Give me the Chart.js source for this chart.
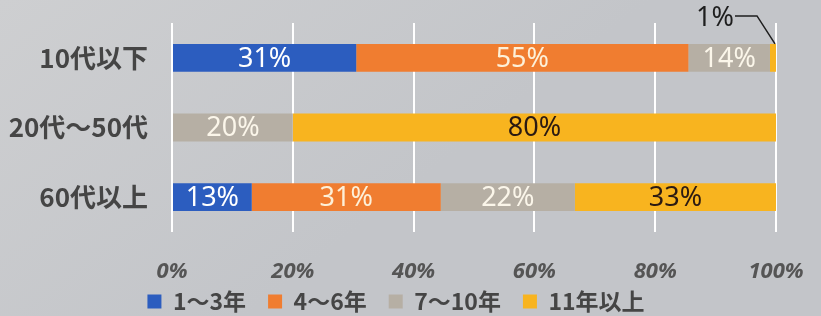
<!DOCTYPE html>
<html lang="ja">
<head>
<meta charset="utf-8">
<script src="https://cdn.jsdelivr.net/npm/chart.js@4.4.1/dist/chart.umd.min.js"></script>
<style>
  html, body { margin: 0; padding: 0; }
  body { width: 821px; height: 316px; overflow: hidden; }
  #wrap { position: relative; width: 821px; height: 316px; }
</style>
</head>
<body>
<div id="wrap"><canvas id="tenureChart"></canvas></div>
<script>
const ageGroups = ['10代以下', '20代～50代', '60代以上'];
const tenureLabels = ['1～3年', '4～6年', '7～10年', '11年以上'];
const years1to3 = [30.5, 0, 13.2];
const years4to6 = [55, 0, 31.3];
const years7to10 = [13.5, 20, 22.2];
const years11plus = [1, 80, 33.3];
const xTicks = [0, 20, 40, 60, 80, 100];

const barColors = ['#2c5dbf', '#f07d30', '#b6afa4', '#f8b41f'];
const textColors = ['#ffffff', '#fdf0d8', '#fbf6ea', '#2b1a12'];
const jpFont = '"Noto Sans CJK JP", "Noto Sans", sans-serif';

// slide-photo background
const backdrop = {
  id: 'backdrop',
  beforeDraw(chart) {
    const { ctx, width, height } = chart;
    const g = ctx.createLinearGradient(0, 0, width * 0.3, height);
    g.addColorStop(0, '#cecfd1');
    g.addColorStop(1, '#c3c5c9');
    ctx.save();
    ctx.fillStyle = g;
    ctx.fillRect(0, 0, width, height);
    ctx.restore();
  }
};

// tick labels overflow their axis boxes a bit, so don't let them get clipped
const unclipTicks = {
  id: 'unclipTicks',
  afterLayout(chart) {
    chart.scales.x.bottom = chart.height;
    chart.scales.y.left = 0;
  }
};

// percentage labels inside the bars, tiny values get a leader line
const barLabels = {
  id: 'barLabels',
  afterDatasetsDraw(chart) {
    const ctx = chart.ctx;
    ctx.save();
    ctx.textAlign = 'center';
    ctx.textBaseline = 'middle';
    chart.data.datasets.forEach((ds, di) => {
      const meta = chart.getDatasetMeta(di);
      meta.data.forEach((bar, i) => {
        const v = ds.data[i];
        if (!v) return;
        const txt = Math.round(v) + '%';
        if (v < 3) {
          const top = bar.y - bar.height / 2;
          const ty = top - 26;
          ctx.font = '27px "Noto Sans", sans-serif';
          ctx.fillStyle = '#1e1e1e';
          ctx.fillText(txt, bar.x - 61, ty);
          ctx.strokeStyle = '#1e1e1e';
          ctx.lineWidth = 1.5;
          ctx.beginPath();
          ctx.moveTo(bar.x - 41, ty - 2);
          ctx.lineTo(bar.x - 19, ty - 2);
          ctx.lineTo(bar.x - 1, top);
          ctx.stroke();
          return;
        }
        ctx.font = '27px "Noto Sans", sans-serif';
        ctx.fillStyle = textColors[di];
        ctx.fillText(txt, (bar.x + bar.base) / 2, bar.y + 1);
      });
    });
    ctx.restore();
  }
};

const tenureData = [years1to3, years4to6, years7to10, years11plus];

new Chart(document.getElementById('tenureChart'), {
  type: 'bar',
  data: {
    labels: ageGroups,
    datasets: tenureLabels.map((name, k) => ({
      label: name,
      data: tenureData[k],
      backgroundColor: barColors[k],
      borderWidth: 0,
      barPercentage: 0.8,
      categoryPercentage: 0.5
    }))
  },
  options: {
    indexAxis: 'y',
    responsive: true,
    maintainAspectRatio: false,
    animation: false,
    layout: { padding: { top: 23, right: 45, left: 16, bottom: -7 } },
    scales: {
      x: {
        stacked: true,
        min: 0,
        max: 100,
        afterBuildTicks(scale) {
          scale.ticks = xTicks.map(v => ({ value: v }));
        },
        afterFit(scale) {
          scale.height = 36;
          scale.paddingLeft = 0;
          scale.paddingRight = 0;
        },
        grid: { color: '#ffffff', lineWidth: 2, drawTicks: false },
        border: { display: false },
        ticks: {
          padding: 27,
          color: '#555555',
          font: { family: '"Noto Sans", sans-serif', size: 22, weight: 'bold', style: 'italic' },
          callback: v => v + '%'
        }
      },
      y: {
        stacked: true,
        afterFit(scale) {
          scale.width = 156;
          scale.paddingTop = 0;
          scale.paddingBottom = 0;
        },
        grid: { display: false, drawTicks: false },
        border: { display: false },
        ticks: {
          padding: 24,
          color: '#454545',
          font: { family: jpFont, size: 26, weight: 'bold' }
        }
      }
    },
    plugins: {
      legend: {
        position: 'bottom',
        labels: {
          boxWidth: 14,
          boxHeight: 14,
          padding: 22,
          color: '#454545',
          font: { family: jpFont, size: 23, weight: 'bold' }
        }
      },
      tooltip: { enabled: false }
    }
  },
  plugins: [backdrop, unclipTicks, barLabels]
});
</script>
</body>
</html>
